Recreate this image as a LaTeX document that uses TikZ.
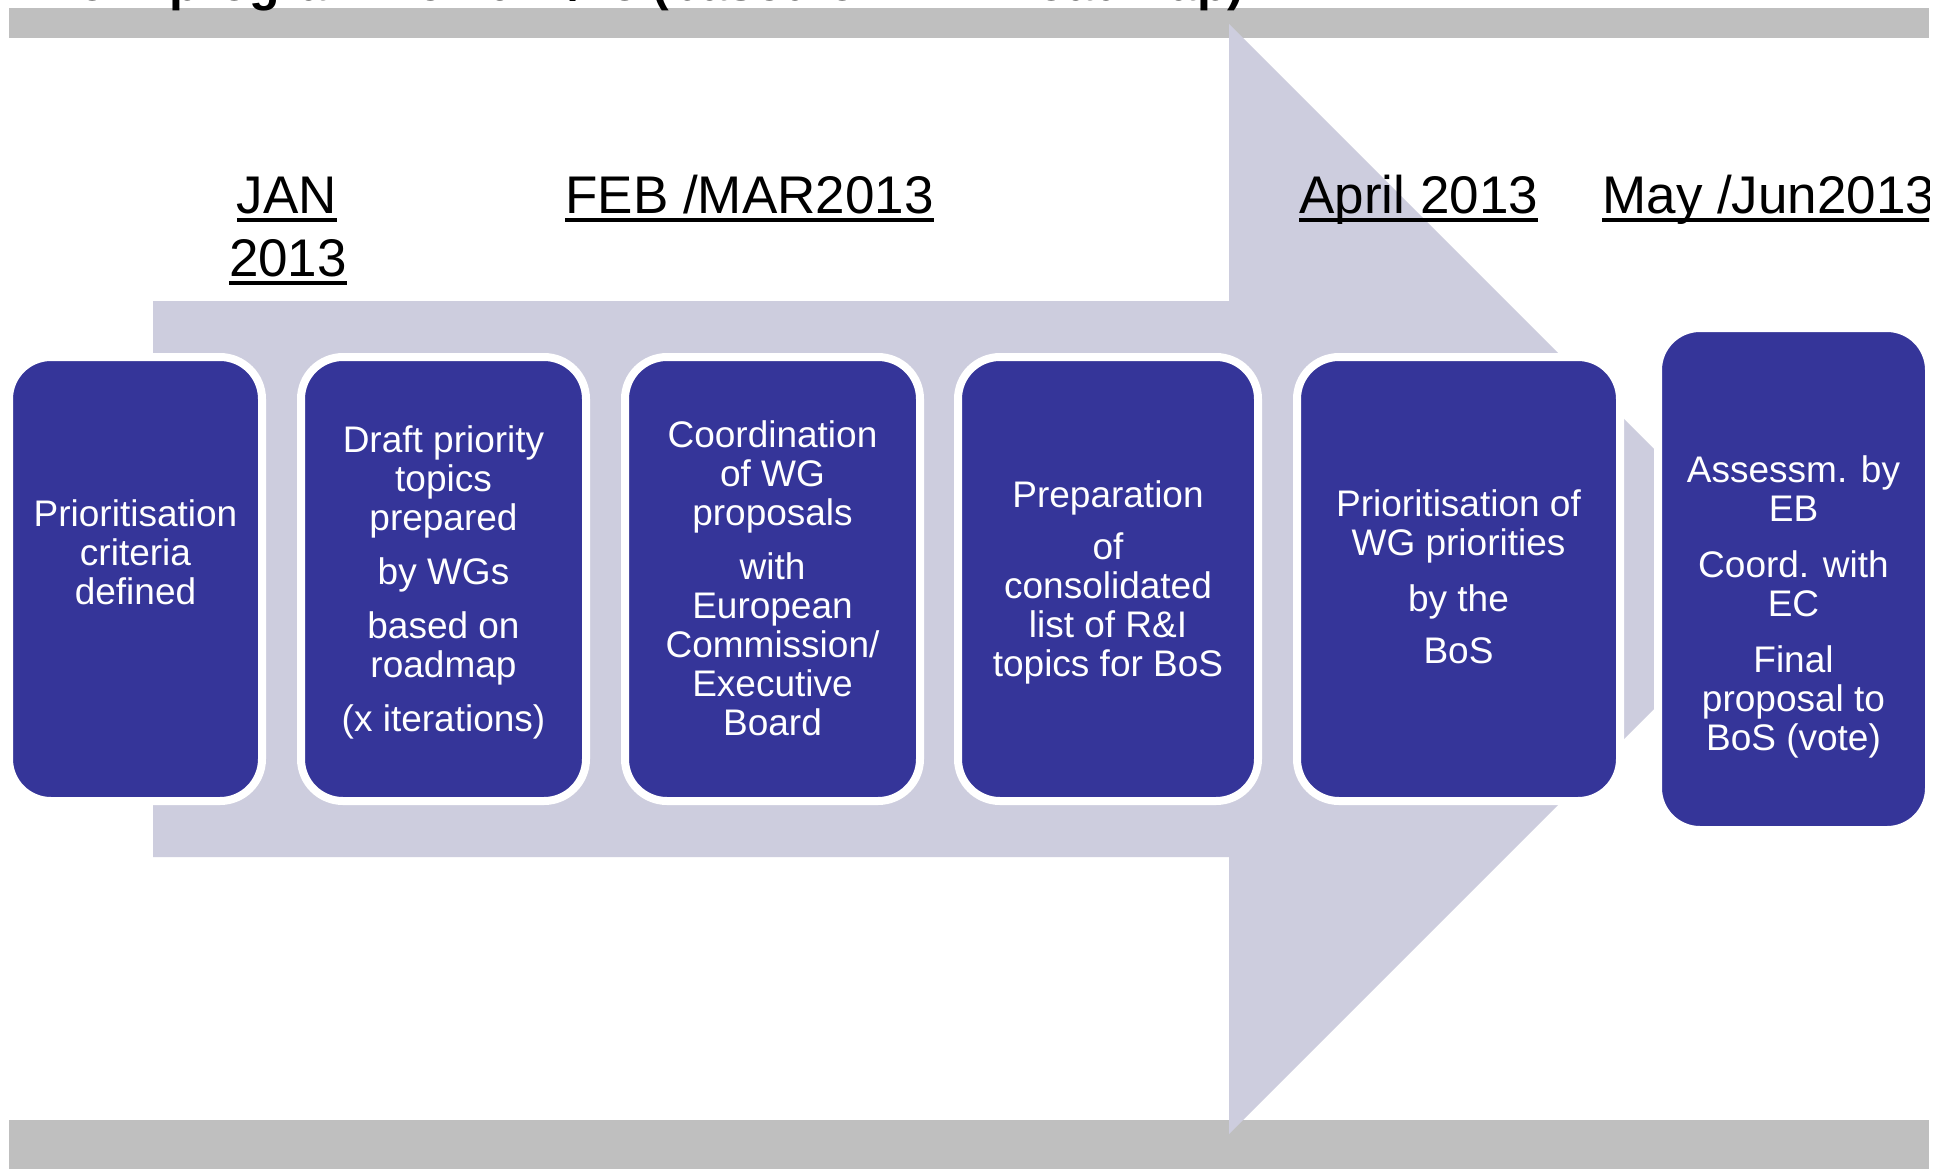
\documentclass[tikz,border=0pt]{standalone}
\usepackage{fontspec}
\setmainfont{Liberation Sans}
\definecolor{boxblue}{RGB}{53,53,153}
\definecolor{arrowlilac}{RGB}{205,205,222}
\definecolor{bargray}{RGB}{191,191,191}
\tikzset{
  stepbox/.style={rectangle, rounded corners=21pt, fill=boxblue, draw=white,
    line width=4pt, inner sep=0pt, minimum height=222pt},
  boxtext/.style={text=white, align=center, inner sep=0pt,
    font=\fontsize{18.5pt}{19.5pt}\selectfont},
  datelbl/.style={inner sep=0pt, text=black, font=\fontsize{26.5pt}{30pt}\selectfont},
  titlelbl/.style={inner sep=0pt, text=black, font=\fontsize{25pt}{28pt}\selectfont\bfseries}
}
\newcommand{\ulnode}[1]{\fill[black] ([yshift=-2.5pt]#1.base west) rectangle ([yshift=-4.6pt]#1.base east);}
\begin{document}
\begin{tikzpicture}[x=0.5pt,y=-0.5pt]
\useasboundingbox (0,0) rectangle (1955,1169);
\fill[white] (0,0) rectangle (1955,1169);
% grey bars
\fill[bargray] (9,8) rectangle (1929,38);
\fill[bargray] (9,1120) rectangle (1929,1169);
% title (mostly outside the page)
\node[titlelbl, anchor=base west] (title) at (31,0) {Work programme 2014/15 (based on PPP roadmap)};
% big arrow
\fill[arrowlilac] (153,301) -- (1229,301) -- (1229,24) -- (1784,579)
  -- (1229,1134) -- (1229,857) -- (153,857) -- cycle;
% boxes
\node[stepbox, minimum width=126.5pt] (b1) at (135.5,579) {};
\node[stepbox, minimum width=142.5pt] (b2) at (443.5,579) {};
\node[stepbox, minimum width=147.5pt] (b3) at (772.5,579) {};
\node[stepbox, minimum width=150pt] (b4) at (1108,579) {};
\node[stepbox, minimum width=161.5pt] (b5) at (1458.5,579) {};
\node[stepbox, minimum width=135.5pt, minimum height=251pt] (b6) at (1793.5,579) {};
% box texts
\node[boxtext] (t1) at (135.5,552) {Prioritisation\\criteria\\defined};
\node[boxtext] (t2) at (443.5,582) {Draft priority\\topics\\prepared\\[7.5pt]by WGs\\[7.5pt]based on\\roadmap\\[7.5pt](x iterations)};
\node[boxtext] (t3) at (772.5,578) {Coordination\\of WG\\proposals\\[7.5pt]with\\European\\Commission/\\Executive\\Board};
\node[boxtext] (t4) at (1108,582) {Preparation\\[6.5pt]of\\consolidated\\list of R\&I\\topics for BoS};
\node[boxtext] (t5) at (1458.5,577) {Prioritisation of\\WG priorities\\[8.5pt]by the\\[6.5pt]BoS};
\node[boxtext] (t6) at (1793.5,607) {Assessm. by\\EB\\[8.5pt]Coord. with\\EC\\[8.5pt]Final\\proposal to\\BoS (vote)};
% date labels
\node[datelbl, anchor=base] (d1a) at (287,213) {JAN};
\node[datelbl, anchor=base] (d1b) at (288,276) {2013};
\node[datelbl, anchor=base west] (d2) at (565,213) {FEB /MAR2013};
\node[datelbl, anchor=base west] (d3) at (1299,213) {April 2013};
\ulnode{d1a}
\ulnode{d1b}
\ulnode{d2}
\ulnode{d3}
\begin{scope}
\clip (1500,100) rectangle (1929,300);
\node[datelbl, anchor=base west] (d4) at (1602,213) {May /Jun2013};
\ulnode{d4}
\end{scope}
\end{tikzpicture}
\end{document}
